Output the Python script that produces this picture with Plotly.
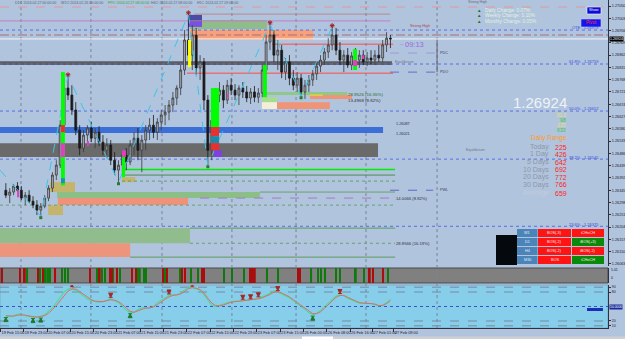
import plotly.graph_objects as go

FONT = "Liberation Sans, Arial, sans-serif"

# ---------------- data ----------------
bar_index = list(range(100))
open_pts = [126345,126326,126338,126361,126345,126315,126326,126303,126288,126269,
            126284,126315,126353,126403,126441,126594,126736,126709,126652,126575,
            126506,126556,126583,126544,126567,126529,126498,126518,126460,126422,
            126441,126479,126453,126518,126544,126498,126537,126575,126594,126567,
            126606,126633,126644,126671,126698,126736,126805,126920,126862,126939,
            126813,126836,126690,126498,126613,126709,126728,126690,126747,126728,
            126709,126736,126721,126698,126721,126701,126717,126805,126912,126939,
            126862,126881,126797,126836,126774,126747,126774,126721,126747,126767,
            126790,126820,126843,126874,126901,126939,126881,126843,126862,126824,
            126859,126843,126862,126836,126851,126843,126862,126851,126901,126927]
high_pts = [126372,126353,126368,126376,126361,126338,126345,126322,126307,126296,
            126326,126364,126414,126460,126613,126774,126782,126747,126682,126594,
            126575,126594,126606,126583,126590,126556,126544,126537,126491,126460,
            126498,126506,126537,126567,126583,126556,126594,126621,126633,126621,
            126652,126671,126690,126721,126747,126824,126958,127019,126977,126966,
            126862,126851,126709,126652,126736,126759,126747,126767,126774,126751,
            126747,126759,126744,126736,126744,126736,126824,126939,126981,126958,
            126920,126901,126851,126862,126805,126797,126790,126767,126786,126805,
            126836,126862,126889,126927,126970,126966,126912,126881,126889,126874,
            126889,126881,126881,126874,126881,126881,126901,126920,126950,126939]
low_pts = [126315,126296,126326,126338,126307,126288,126296,126276,126250,126246,
           126276,126303,126338,126384,126430,126575,126690,126633,126556,126479,
           126491,126518,126529,126506,126514,126479,126468,126441,126403,126376,
           126414,126422,126441,126479,126460,126414,126498,126537,126544,126537,
           126575,126594,126613,126644,126671,126709,126786,126824,126805,126786,
           126767,126652,126441,126460,126594,126682,126659,126675,126709,126690,
           126671,126698,126682,126675,126682,126679,126701,126786,126881,126836,
           126805,126774,126767,126747,126728,126721,126705,126694,126721,126744,
           126767,126797,126824,126851,126881,126862,126824,126797,126813,126805,
           126824,126813,126824,126820,126828,126824,126836,126836,126874,126889]
close_pts = [126326,126338,126361,126345,126315,126326,126303,126288,126269,126284,
             126315,126353,126403,126441,126594,126736,126709,126652,126575,126506,
             126556,126583,126544,126567,126529,126498,126518,126460,126422,126441,
             126479,126453,126518,126544,126498,126537,126575,126594,126567,126606,
             126633,126644,126671,126698,126736,126805,126920,126862,126939,126813,
             126836,126690,126498,126613,126709,126728,126690,126747,126728,126709,
             126736,126721,126698,126721,126701,126717,126805,126912,126939,126862,
             126881,126797,126836,126774,126747,126774,126721,126747,126767,126790,
             126820,126843,126874,126901,126939,126881,126843,126862,126824,126859,
             126843,126862,126836,126851,126843,126862,126851,126901,126927,126924]
last_price = 1.26924

time_labels = ["19 Feb 15:00", "19 Feb 23:00", "20 Feb 07:00", "20 Feb 15:00", "20 Feb 23:00",
               "21 Feb 07:00", "21 Feb 15:00", "21 Feb 23:00", "22 Feb 07:00", "22 Feb 15:00",
               "22 Feb 23:00", "23 Feb 07:00", "23 Feb 15:00", "26 Feb 00:00", "26 Feb 08:00",
               "26 Feb 16:00", "27 Feb 01:00", "27 Feb 09:00"]
time_tick_bars = [-1.36, 4.6, 10.6, 16.6, 22.6, 28.6, 34.6, 40.6, 46.6, 52.6,
                  58.6, 64.6, 70.6, 76.6, 82.6, 88.6, 94.4, 99.9]
price_ticks = [127050, 127003, 126956, 126909, 126862, 126815, 126768, 126721, 126674, 126627, 126580,
               126533, 126486, 126439, 126392, 126345, 126298, 126251, 126204, 126157, 126110, 126063]
grid_bars = [3.9, 21.9, 40.2, 58.2, 74.7, 92.7, 111.0]

# supply / demand zones: start bar, end bar, upper, lower (points)
zone_x0 = [-1.5, -1.5, -1.5, -1.5, -1.5, 13.2, 13.4, 47.4, 47.4, 46.9, 46.9, 11.4, 10.9, 29.9, 66.2, 78.3, 65.9, 65.9, 69.8]
zone_x1 = [99.4, 97.1, 95.8, 47.4, 32.0, 65.4, 46.9, 67.2, 79.1, 50.5, 50.5, 17.8, 14.7, 33.3, 87.8, 89.1, 69.8, 69.8, 83.4]
zone_top = [126839, 126587, 126525, 126200, 126142, 126338, 126315, 126996, 126958, 127016, 126989, 126376, 126288, 126395, 126721, 126709, 126701, 126682, 126682]
zone_bot = [126824, 126564, 126472, 126142, 126089, 126315, 126288, 126962, 126920, 126989, 126970, 126338, 126250, 126376, 126709, 126694, 126682, 126656, 126656]
zone_colors = ["#5e5e5e", "#3b6fd6", "#6a6a6a", "#90bc8e", "#ec957c", "#8cbf88", "#f0917a", "#90bc8c",
               "#f6a07c", "#4b4ba6", "#7a50e0", "#c4b46c", "#c4b46c", "#c4b46c", "#8ec88a", "#f09478",
               "#a6dc8c", "#f2eed8", "#f09478"]

# impulse highlight blocks: start bar, end bar, upper, lower
hl_x0 = [14.2, 14.2, 14.2, 14.2, 46.9, 52.8, 52.8, 52.8, 52.8, 53.6, 66.2, 89.4, 89.4, 29.9, 29.9, 2.9, 20.9, 56.9, 91.7]
hl_x1 = [15.2, 15.2, 15.2, 15.2, 47.7, 54.9, 54.9, 54.9, 54.9, 55.6, 67.2, 90.4, 90.4, 30.7, 30.9, 3.4, 21.4, 57.4, 92.2]
hl_top = [126797, 126594, 126525, 126391, 126920, 126736, 126587, 126552, 126525, 126498, 126824, 126885, 126843, 126472, 126498, 126345, 126533, 126713, 126862]
hl_bot = [126364, 126567, 126472, 126372, 126816, 126587, 126552, 126525, 126498, 126472, 126701, 126805, 126820, 126395, 126472, 126318, 126514, 126701, 126847]
hl_colors = ["#00ff00", "#e83030", "#e040c0", "#2090b0", "#ffff00", "#00ff00", "#e83030", "#1a8aa8", "#e83030",
             "#8040e0", "#00ff00", "#00ff00", "#e040c0", "#00ff00", "#e040c0", "#e040c0", "#e040c0", "#e040c0", "#e040c0"]

# horizontal levels: price, start bar, end bar
lvl_price = [127046, 127019, 126993, 126958, 126939, 126924, 126904, 126828, 126793, 126648, 126464,
             126424, 126403, 126380, 126338, 126315, 126288, 126207, 126200, 126142, 126089,
             126870, 126797, 126345, 126709]
lvl_x0 = [-1.5, 48.5, -1.5, -1.5, -1.5, -1.5, 68.5, -1.5, 46.6, -1.5, -1.5,
          29.9, 29.9, 29.9, 65.4, 50.0, -1.5, -1.5, 47.4, 47.4, 32.0,
          98.9, 98.9, 98.9, 78.3]
lvl_x1 = [155, 99.0, 99.0, 155, 155, 155, 99.7, 155, 99.7, 155, 155,
          100.2, 100.2, 100.2, 100.2, 100.2, 100.2, 155, 100.2, 100.2, 100.2,
          111.0, 111.0, 110.0, 81.6]
lvl_style = [("#e39a9a", 1, "dash"), ("#c07a7a", 0.8, "solid"), ("#c67ac6", 1, "solid"), ("#5a6ee6", 1, "dot"),
             ("#a8707a", 1, "dashdot"), ("#f4f6fa", 1, "solid"), ("#ff4a4a", 1, "solid"), ("#5a6ee6", 1, "dot"),
             ("#ff4a4a", 1, "solid"), ("#5a6ee6", 1, "dot"), ("#5a6ee6", 1, "dot"),
             ("#00ee00", 1.5, "solid"), ("#4f8a4f", 1, "solid"), ("#5ea05e", 1, "dot"), ("#6ea06e", 1, "solid"),
             ("#a878c8", 1, "dash"), ("#6ea06e", 1, "dot"), ("#5a6ee6", 1, "dot"), ("#5a9a5a", 1, "solid"),
             ("#6ea06e", 1, "dot"), ("#5a9a5a", 1, "solid"),
             ("#9a9ad8", 1, "dash"), ("#6a6ac8", 1, "dash"), ("#5a6ac8", 1, "dash"), ("#e8d040", 1.5, "solid")]

fib_prices = [126958, 126828, 126648, 126464, 126207]
fib_labels = ["OTE - 1.26979", "61.8% - 1.26759", "50.0% - 1.26652", "38.2% - 1.26545", "23.6% - 1.26375"]

swing_high_bars = [16, 47, 68, 84]
swing_low_bars = [9, 29, 52, 76]
zigzag_bars = [-1.5, 9, 16, 29, 47, 52, 68, 76, 84]
zigzag_pts = [126422, 126246, 126782, 126376, 127019, 126441, 126981, 126705, 126970]

strip_green = [5.5, 8.8, 9.8, 10.3, 10.9, 11.4, 14.5, 15.2, 16.0, 23.5, 24.8, 25.5, 27.6, 29.4, 34.0, 34.5,
               35.6, 36.1, 41.0, 44.8, 47.7, 49.5, 56.2, 58.2, 61.3, 67.2, 70.1, 78.6, 80.4, 81.1, 82.2,
               85.0, 86.0, 90.1, 92.2, 98.4]
strip_red = [-1.0, 3.7, 4.9, 8.3, 9.6, 12.7, 21.7, 24.2, 26.8, 27.3, 28.6, 32.5, 33.5, 40.5, 41.5, 45.4,
             46.1, 50.5, 51.0, 62.9, 63.4, 64.1, 75.2, 75.7, 93.7, 94.5, 97.1]

osc_main = [30, 29, 31, 34, 34, 31, 29, 28, 28, 29,
            33, 40, 48, 58, 68, 80, 86, 88, 83, 78,
            72, 65, 62, 60, 59, 60, 63, 66, 62, 58,
            50, 42, 38, 38, 44, 47, 47, 47, 50, 58,
            63, 68, 73, 74, 74, 78, 85, 90, 89, 87,
            84, 74, 62, 52, 50, 52, 55, 58, 60, 61,
            61, 62, 63, 63, 65, 67, 70, 73, 78, 82,
            80, 76, 73, 68, 62, 55, 50, 44, 37, 33,
            36, 42, 50, 58, 66, 72, 74, 72, 67, 63,
            60, 57, 57, 57, 56, 54, 51, 53, 58, 65]
osc_signal = [31, 30, 30, 32, 33, 32, 30, 29, 28, 29,
              31, 36, 43, 52, 62, 73, 82, 86, 86, 81,
              75, 69, 64, 61, 60, 60, 62, 64, 63, 60,
              54, 46, 40, 38, 41, 45, 47, 47, 49, 54,
              60, 65, 70, 73, 74, 76, 81, 87, 89, 88,
              85, 78, 67, 57, 52, 51, 53, 56, 59, 60,
              61, 62, 62, 63, 64, 66, 68, 71, 75, 80,
              81, 78, 74, 70, 64, 58, 52, 47, 40, 35,
              35, 39, 46, 54, 62, 69, 73, 73, 69, 65,
              61, 58, 57, 57, 56, 55, 52, 52, 56, 62]
osc_levels = [90, 80, 50, 20, 10]
osc_sell_bars = [17, 27, 42, 48, 61, 63, 65, 70, 86]
osc_buy_bars = [0, 7, 9, 32, 79]

change_labels = ["Daily Change: 0.07%", "Weekly Change: 0.10%", "Monthly Change: 0.05%"]
stat_values = ["30.0", "98", "225", "633"]
range_labels = ["Today", "1 Day", "5 Days", "10 Days", "20 Days", "30 Days", "Average"]
range_values = [225, 426, 642, 692, 772, 766, 659]
table_rows = [["W1", "BOS(-3)", "iCHoCH"], ["D1", "BOS(-2)", "iBOS(+3)"],
              ["H4", "BOS(-2)", "iBOS(-2)"], ["M30", "BOS", "iCHoCH"]]
table_bull = [[False, False, False], [False, False, True], [False, False, False], [False, False, True]]

# ---------------- helpers ----------------
P = lambda v: v / 1e5
PW, PH = 608.0, 328.0
def px(x): return x / PW
def py(y): return 1 - y / PH

shapes, annotations = [], []

def txt(x, y, s, color, size, anchor="left", **kw):
    annotations.append(dict(x=px(x), y=py(y), xref="paper", yref="paper", text=s, showarrow=False,
                            font=dict(color=color, size=size, family=FONT), xanchor=anchor,
                            yanchor="middle", borderpad=0, **kw))

def prect(x0, y0, x1, y1, fill, line=None, lw=0, layer="above"):
    shapes.append(dict(type="rect", xref="paper", yref="paper", x0=px(x0), x1=px(x1), y0=py(y1), y1=py(y0),
                       fillcolor=fill, line=dict(color=line or fill, width=lw), layer=layer))

# ---------------- figure ----------------
fig = go.Figure()

# panel backgrounds
shapes.append(dict(type="rect", xref="x2 domain", yref="y2 domain", x0=0, x1=1, y0=0, y1=1,
                   fillcolor="#808080", line=dict(color="#4a4a4a", width=1), layer="below"))
shapes.append(dict(type="rect", xref="x3 domain", yref="y3 domain", x0=0, x1=1, y0=0, y1=1,
                   fillcolor="#87ceeb", line=dict(color="#6a8aa8", width=0.5), layer="below"))

# zones
for x0, x1, t, b, c in zip(zone_x0, zone_x1, zone_top, zone_bot, zone_colors):
    shapes.append(dict(type="rect", xref="x", yref="y", x0=x0, x1=x1, y0=P(b), y1=P(t),
                       fillcolor=c, line=dict(width=0), layer="below"))

# vertical grid
for g in grid_bars:
    shapes.append(dict(type="line", xref="x", yref="paper", x0=g, x1=g, y0=0, y1=1,
                       line=dict(color="#7a8496", width=1, dash="dot"), layer="below"))

# levels
for p, x0, x1, (c, w, d) in zip(lvl_price, lvl_x0, lvl_x1, lvl_style):
    shapes.append(dict(type="line", xref="x", yref="y", x0=x0, x1=x1, y0=P(p), y1=P(p),
                       line=dict(color=c, width=w, dash=d), layer="below"))
# PDC/PDO vertical
shapes.append(dict(type="line", xref="x", yref="y", x0=111.0, x1=111.0, y0=P(126920), y1=P(126797),
                   line=dict(color="#606070", width=1), layer="below"))

# oscillator levels
for lv in osc_levels:
    blue = lv == 50
    shapes.append(dict(type="line", xref="x3", yref="y3", x0=-1.5, x1=155, y0=lv, y1=lv,
                       line=dict(color="#3a50d0" if blue else "#7a88a0", width=1, dash="dot" if blue else "dash"),
                       layer="below"))
shapes.append(dict(type="rect", xref="x3", yref="y3", x0=149.6, x1=153.7, y0=40.7, y1=46.9,
                   fillcolor="#1830b0", line=dict(width=0), layer="above"))

# zigzag
fig.add_trace(go.Scatter(x=zigzag_bars, y=[P(v) for v in zigzag_pts], mode="lines",
                         line=dict(color="#3cc4e8", width=1, dash="dash"), hoverinfo="skip",
                         xaxis="x", yaxis="y"))

# candles
fig.add_trace(go.Candlestick(x=bar_index, open=[P(v) for v in open_pts], high=[P(v) for v in high_pts],
                             low=[P(v) for v in low_pts], close=[P(v) for v in close_pts],
                             increasing=dict(line=dict(color="#3a3a3a", width=0.8), fillcolor="#a4aab2"),
                             decreasing=dict(line=dict(color="#1a1a1a", width=0.8), fillcolor="#1a1a1a"),
                             whiskerwidth=0, hoverinfo="skip", xaxis="x", yaxis="y"))

# impulse highlight blocks above candles
for x0, x1, t, b, c in zip(hl_x0, hl_x1, hl_top, hl_bot, hl_colors):
    shapes.append(dict(type="rect", xref="x", yref="y", x0=x0, x1=x1, y0=P(b), y1=P(t),
                       fillcolor=c, line=dict(width=0), layer="above"))

# swing markers
fig.add_trace(go.Scatter(x=swing_high_bars, y=[P(high_pts[i]) + 0.00005 for i in swing_high_bars],
                         mode="markers", marker=dict(symbol="asterisk", size=4, color="#a02020",
                                                     line=dict(color="#a02020", width=1)),
                         hoverinfo="skip", xaxis="x", yaxis="y"))
fig.add_trace(go.Scatter(x=swing_low_bars, y=[P(low_pts[i]) - 0.00006 for i in swing_low_bars],
                         mode="markers", marker=dict(symbol="square", size=3, color="#2a7a2a"),
                         hoverinfo="skip", xaxis="x", yaxis="y"))

# strip bars
fig.add_trace(go.Bar(x=strip_green, y=[1] * len(strip_green), width=0.45, marker=dict(color="#0e7a0e", line=dict(width=0)),
                     hoverinfo="skip", xaxis="x2", yaxis="y2"))
fig.add_trace(go.Bar(x=strip_red, y=[1] * len(strip_red), width=0.45, marker=dict(color="#a80e0e", line=dict(width=0)),
                     hoverinfo="skip", xaxis="x2", yaxis="y2"))

# oscillator
fig.add_trace(go.Scatter(x=bar_index, y=osc_main, mode="lines", line=dict(color="#3ce07a", width=1),
                         hoverinfo="skip", xaxis="x3", yaxis="y3"))
fig.add_trace(go.Scatter(x=bar_index, y=osc_signal, mode="lines", line=dict(color="#e06a6a", width=1),
                         hoverinfo="skip", xaxis="x3", yaxis="y3"))
fig.add_trace(go.Scatter(x=osc_sell_bars, y=[osc_main[i] + 3 for i in osc_sell_bars], mode="markers",
                         marker=dict(symbol="arrow-bar-down", size=4, color="#a02828", line=dict(color="#a02828", width=1)),
                         hoverinfo="skip", xaxis="x3", yaxis="y3"))
fig.add_trace(go.Scatter(x=osc_buy_bars, y=[osc_main[i] - 3 for i in osc_buy_bars], mode="markers",
                         marker=dict(symbol="arrow-bar-up", size=4, color="#1e7a2e", line=dict(color="#1e7a2e", width=1)),
                         hoverinfo="skip", xaxis="x3", yaxis="y3"))

# ---------------- texts ----------------
status = [(14, "D1O 2024.02.27 00:00:00", "#5a6478"), (60, "W1O 2024.02.26 00:00:00", "#5a6478"),
          (107, "FPO 2024.02.27 08:00:00", "#3aa03a"), (150, "H4O 2024.02.27 08:00:00", "#5a6478"),
          (196, "H1C 2024.02.27 09:00:00", "#5a6478")]
for x, s, c in status:
    txt(x, 3, s, c, 3.6)
txt(477, 2, "Strong High", "#6a6a7a", 3.6, "center")

for i, s in enumerate(change_labels):
    yy = 10 + i * 5.7
    txt(479, yy, "▲", "#1f6e1f", 4.5, "center")
    txt(484, yy, s, "#e2f2dc", 4.8)

prect(587, 7, 601, 14, "#0c0cd8", "#ffffff", 0.6)
txt(594, 10.5, "Show", "#ffffff", 3.8, "center")
prect(581, 19, 601, 27, "#1414f0", "#c8c8ff", 0.6)
txt(591, 23, "Pivot", "#ff3030", 4.6, "center")

fib_y = [28, 62, 108, 157, 224]
for yy, s in zip(fib_y, fib_labels):
    txt(600, yy, s, "#3a4ad8", 4, "right")

txt(609, 39, "1.26924", "#ffffff", 3.6, "left", bgcolor="#000000")
txt(402, 44, "–", "#a080e0", 6, "center")
txt(414, 44, "09:13", "#9b6ad8", 7.5, "center")
txt(439, 53, "PDC", "#404060", 3.8)
txt(439, 72, "PDO", "#404060", 3.8)
txt(439, 190, "PWL", "#404060", 3.8)
txt(420, 26, "Strong High", "#b04848", 3.8, "center")
txt(404, 62, "Equilibrium", "#707888", 3.8, "center")
txt(475, 150, "Equilibrium", "#707888", 3.8, "center")
txt(395, 124, "1.26087", "#303040", 3.8)
txt(395, 134, "1.26021", "#303040", 3.8)
txt(347, 94, "28.9526 (16.55%)", "#2a6a2a", 4.4)
txt(347, 101, "13.4968 (8.82%)", "#303030", 4.4)
txt(395, 198, "14.0066 (8.82%)", "#303040", 4.2)
txt(395, 243, "28.8566 (16.19%)", "#303040", 4.2)

txt(540, 102.5, "1.26924", "#eef2f8", 15, "center")
stat_colors = ["#e6e070", "#46c046", "#e6e070", "#46c046"]
for i, (s, c) in enumerate(zip(stat_values, stat_colors)):
    txt(567, 114.5 + i * 5.3, s, c, 5.2, "right")
txt(549, 138, "Daily Range", "#ff9a2a", 6.5, "center")
range_y = [147, 154.5, 162, 169.5, 177, 184.5, 193]
for yy, lab, v in zip(range_y, range_labels, range_values):
    txt(550, yy, lab, "#c4ccd8" if lab == "Average" else "#8e96a6", 7, "right")
    txt(554, yy, str(v), "#ff2424", 7, "left")

# table
prect(496, 235, 517, 265, "#05080c")
col_x = [(517, 537.5), (538, 571), (572, 604)]
row_y = [(229, 237), (238, 246), (247, 255), (256, 264)]
for r, (row, bulls) in enumerate(zip(table_rows, table_bull)):
    for c, (cell, bull) in enumerate(zip(row, bulls)):
        fill = "#4a84b8" if c == 0 else ("#0a8a0a" if bull else "#ff1414")
        x0, x1 = col_x[c]
        y0, y1 = row_y[r]
        prect(x0, y0, x1, y1, fill)
        txt((x0 + x1) / 2, (y0 + y1) / 2, cell, "#e4ecf8" if c == 0 else "#ffe8e8", 3.8, "center")

# strip axis labels
txt(610, 270, "5.01", "#202030", 3.5)
txt(610, 278, "0", "#202030", 3.5)
txt(609, 307, "50.0000", "#ffffff", 3.4, "left", bgcolor="#1a2a9a")

# scroll bar
prect(0, 336.5, 625, 339, "#d0d0d4")
prect(302, 336.5, 333, 339, "#ffffff")

fig.update_layout(
    width=625, height=339, margin=dict(l=0, r=17, t=0, b=11),
    paper_bgcolor="#b0c4de", plot_bgcolor="#b0c4de", showlegend=False, barmode="overlay",
    shapes=shapes, annotations=annotations,
    xaxis=dict(domain=[0, 1], range=[-1.5, 155], anchor="y", showticklabels=False, showgrid=False,
               zeroline=False, rangeslider=dict(visible=False)),
    xaxis2=dict(domain=[0, 1], range=[-1.5, 155], anchor="y2", matches="x", showticklabels=False,
                showgrid=False, zeroline=False),
    xaxis3=dict(domain=[0, 1], range=[-1.5, 155], anchor="y3", matches="x", showgrid=False, zeroline=False,
                tickmode="array", tickvals=time_tick_bars, ticktext=time_labels, tickangle=0,
                tickfont=dict(size=3.9, color="#202030", family=FONT), ticks="outside", ticklen=3,
                tickcolor="#303040", ticklabelposition="outside right", showline=True, linecolor="#303040",
                linewidth=1),
    yaxis=dict(domain=[0.1890, 1], range=[1.26055, 1.27073], anchor="x", side="right", showgrid=False,
               zeroline=False, tickmode="array", tickvals=[P(v) for v in price_ticks], tickformat=".5f",
               tickfont=dict(size=3.8, color="#202030", family=FONT), ticks="outside", ticklen=2,
               tickcolor="#303040", showline=True, linecolor="#303040", linewidth=1),
    yaxis2=dict(domain=[0.1372, 0.1829], range=[0, 1], anchor="x2", side="right", showgrid=False,
                zeroline=False, showticklabels=False, showline=True, linecolor="#303040", linewidth=1),
    yaxis3=dict(domain=[0, 0.1311], range=[5.5, 94.5], anchor="x3", side="right", showgrid=False,
                zeroline=False, tickmode="array", tickvals=[90, 80, 20, 10],
                tickfont=dict(size=3.6, color="#202030", family=FONT), ticks="outside", ticklen=2,
                tickcolor="#303040", showline=True, linecolor="#303040", linewidth=1),
)

fig.write_html("out.html")
